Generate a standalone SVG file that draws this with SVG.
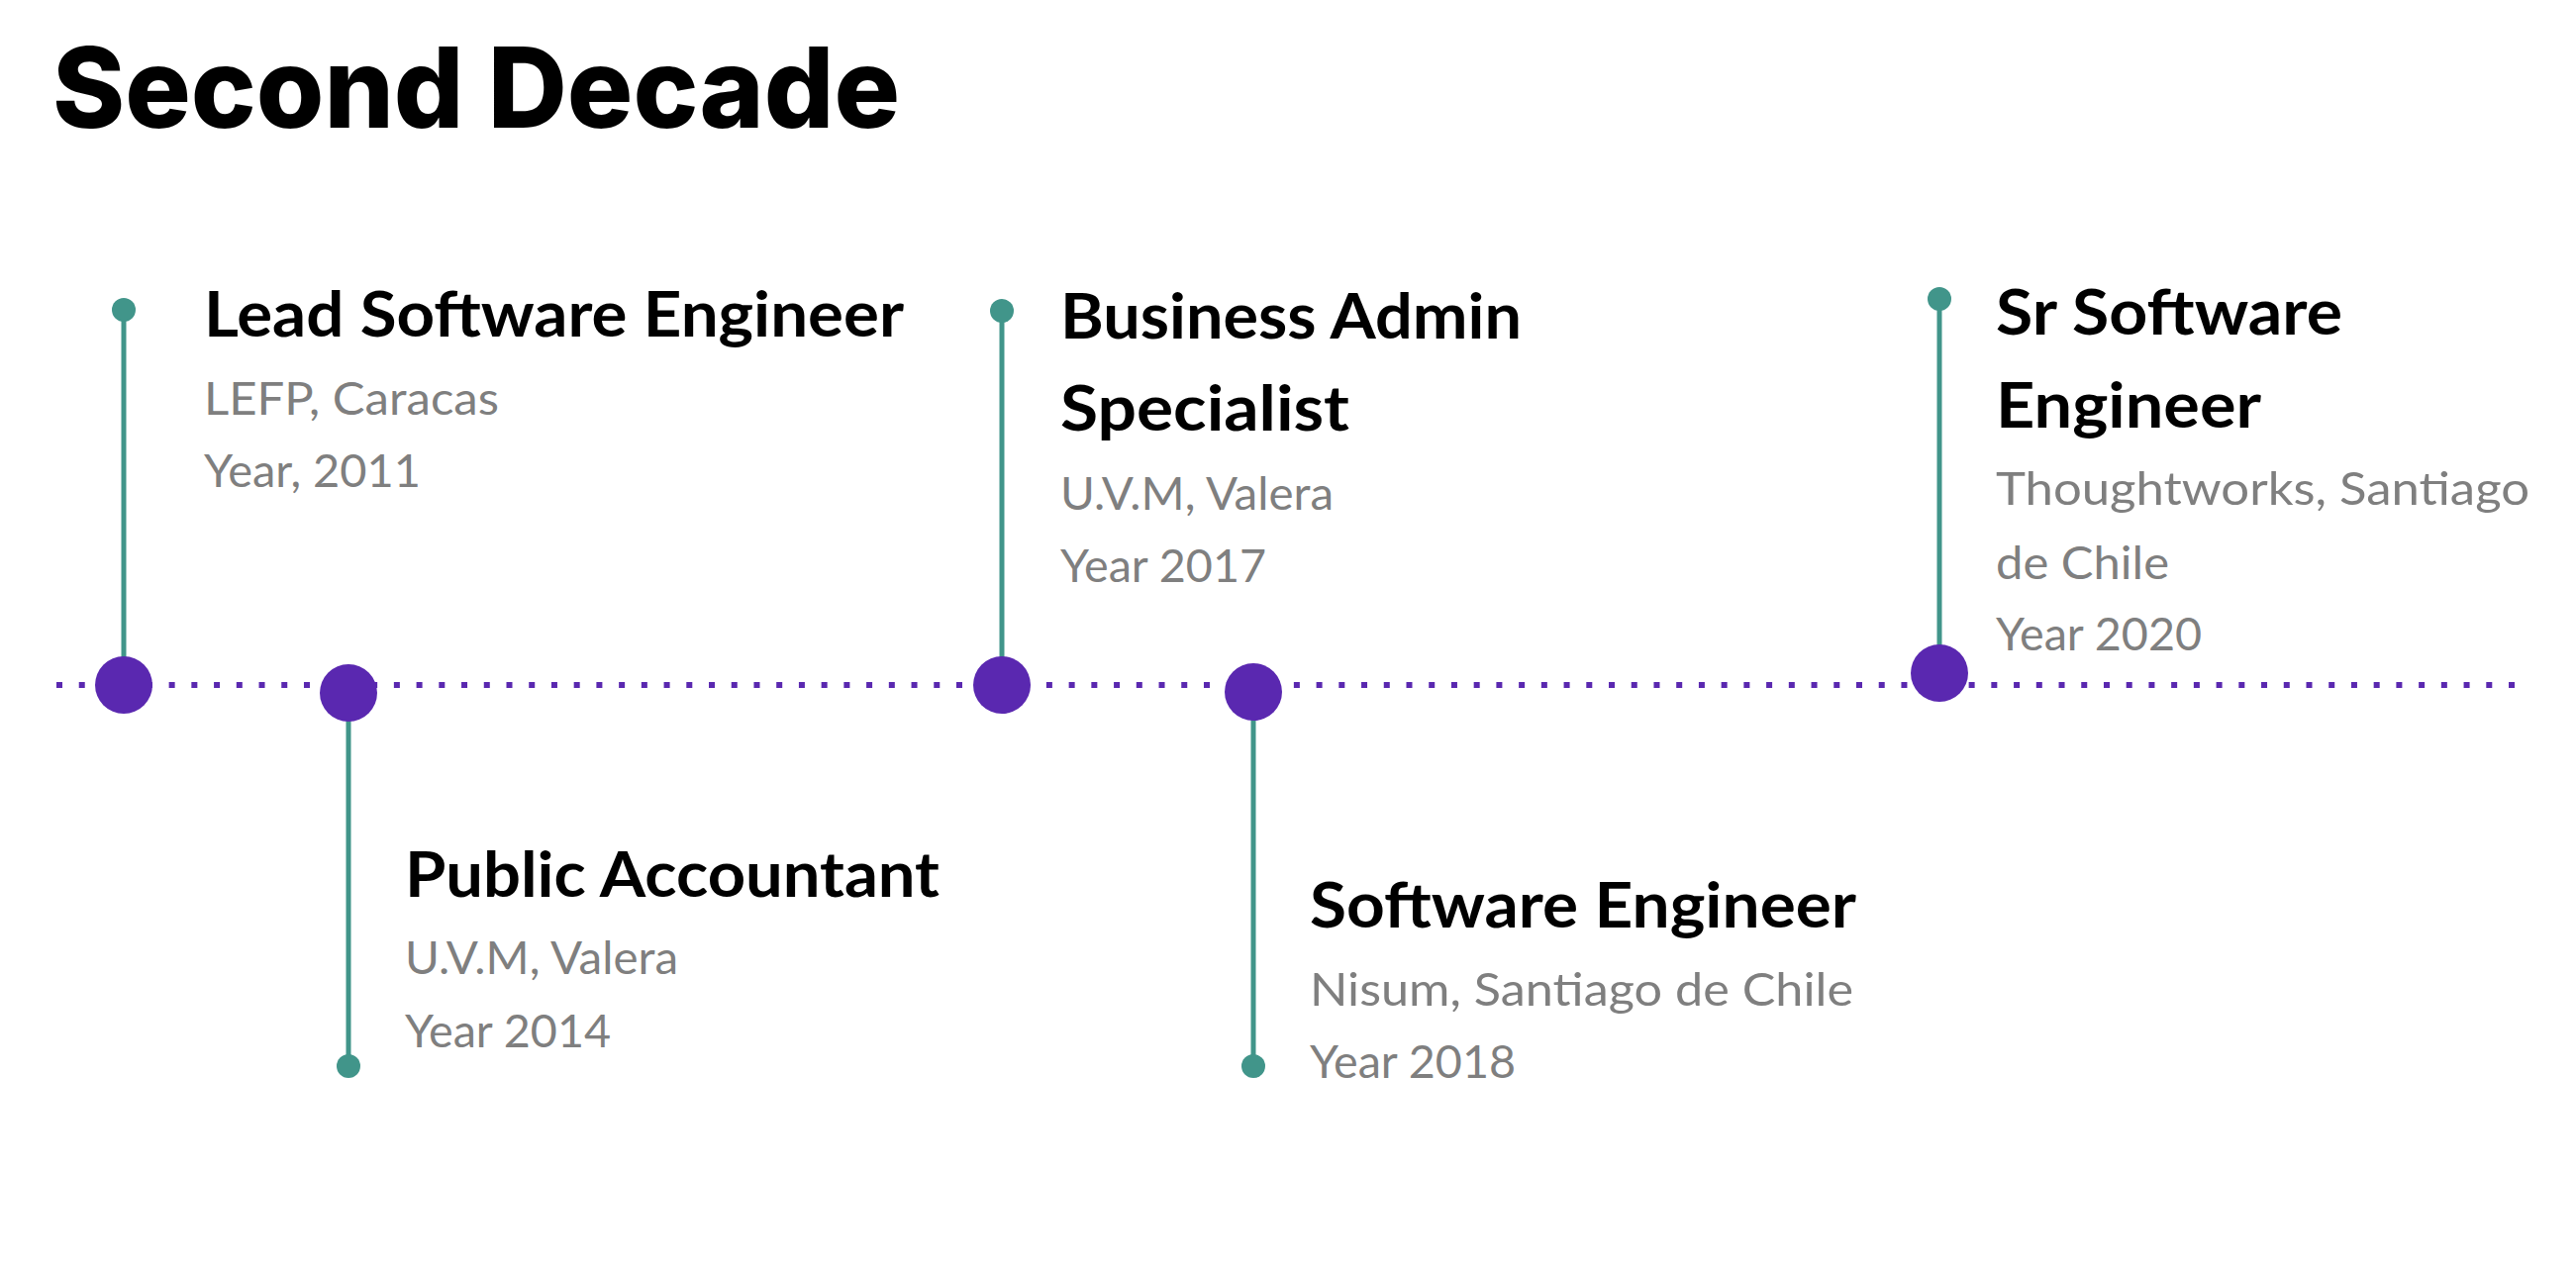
<svg xmlns="http://www.w3.org/2000/svg" width="2602" height="1284" viewBox="0 0 2602 1284">
  <style>
    .heading { font-family: Inter, "Open Sans", "Liberation Sans", sans-serif; font-weight: 800; font-size: 113px; fill: #000000; }
    .role { font-family: Lato, "Open Sans", "Liberation Sans", sans-serif; font-weight: 700; font-size: 64px; fill: #000000; }
    .meta { font-family: Lato, "Open Sans", "Liberation Sans", sans-serif; font-weight: 400; font-size: 46px; fill: #7f7f7f; }
    .stem { stroke: #41958a; stroke-width: 5; fill: none; }
    .tip { fill: #41958a; }
    .point { fill: #5a28b0; }
    .axis { stroke: #5a28b0; stroke-width: 6; stroke-dasharray: 6 16.725; fill: none; }
  </style>

  <rect width="2602" height="1284" fill="#ffffff"/>

  <text class="heading" x="53" y="129" textLength="856" lengthAdjust="spacingAndGlyphs">Second Decade</text>

  <!-- dotted time axis and the stems joining each point to its label -->
  <g id="connectors">
    <line class="axis" x1="57" y1="692" x2="2541" y2="692"/>
    <line class="stem" x1="125" y1="313" x2="125" y2="692"/>
    <line class="stem" x1="352" y1="700" x2="352" y2="1077"/>
    <line class="stem" x1="1012" y1="314" x2="1012" y2="692"/>
    <line class="stem" x1="1266" y1="699" x2="1266" y2="1077"/>
    <line class="stem" x1="1959" y1="302" x2="1959" y2="680"/>
  </g>

  <g id="node-2011">
    <circle class="tip" cx="125" cy="313" r="12"/>
    <circle class="point" cx="125" cy="692" r="29"/>
    <text class="role" x="206" y="340" textLength="707" lengthAdjust="spacingAndGlyphs">Lead Software Engineer</text>
    <text class="meta" x="206" y="419" textLength="298" lengthAdjust="spacingAndGlyphs">LEFP, Caracas</text>
    <text class="meta" x="206" y="492" textLength="219" lengthAdjust="spacingAndGlyphs">Year, 2011</text>
  </g>

  <g id="node-2014">
    <circle class="tip" cx="352" cy="1077" r="12"/>
    <circle class="point" cx="352" cy="700" r="29"/>
    <text class="role" x="409" y="906" textLength="540" lengthAdjust="spacingAndGlyphs">Public Accountant</text>
    <text class="meta" x="409" y="984" textLength="276" lengthAdjust="spacingAndGlyphs">U.V.M, Valera</text>
    <text class="meta" x="409" y="1058" textLength="208" lengthAdjust="spacingAndGlyphs">Year 2014</text>
  </g>

  <g id="node-2017">
    <circle class="tip" cx="1012" cy="314" r="12"/>
    <circle class="point" cx="1012" cy="692" r="29"/>
    <text class="role" x="1071" y="342" textLength="466" lengthAdjust="spacingAndGlyphs">Business Admin</text>
    <text class="role" x="1071" y="435" textLength="292" lengthAdjust="spacingAndGlyphs">Specialist</text>
    <text class="meta" x="1071" y="515" textLength="276" lengthAdjust="spacingAndGlyphs">U.V.M, Valera</text>
    <text class="meta" x="1071" y="588" textLength="208" lengthAdjust="spacingAndGlyphs">Year 2017</text>
  </g>

  <g id="node-2018">
    <circle class="tip" cx="1266" cy="1077" r="12"/>
    <circle class="point" cx="1266" cy="699" r="29"/>
    <text class="role" x="1323" y="937" textLength="552" lengthAdjust="spacingAndGlyphs">Software Engineer</text>
    <text class="meta" x="1323" y="1016" textLength="549" lengthAdjust="spacingAndGlyphs">Nisum, Santiago de Chile</text>
    <text class="meta" x="1323" y="1089" textLength="208" lengthAdjust="spacingAndGlyphs">Year 2018</text>
  </g>

  <g id="node-2020">
    <circle class="tip" cx="1959" cy="302" r="12"/>
    <circle class="point" cx="1959" cy="680" r="29"/>
    <text class="role" x="2016" y="338" textLength="350" lengthAdjust="spacingAndGlyphs">Sr Software</text>
    <text class="role" x="2016" y="432" textLength="268" lengthAdjust="spacingAndGlyphs">Engineer</text>
    <text class="meta" x="2016" y="510" textLength="539" lengthAdjust="spacingAndGlyphs">Thoughtworks, Santiago</text>
    <text class="meta" x="2016" y="585" textLength="175" lengthAdjust="spacingAndGlyphs">de Chile</text>
    <text class="meta" x="2016" y="657" textLength="208" lengthAdjust="spacingAndGlyphs">Year 2020</text>
  </g>
</svg>
